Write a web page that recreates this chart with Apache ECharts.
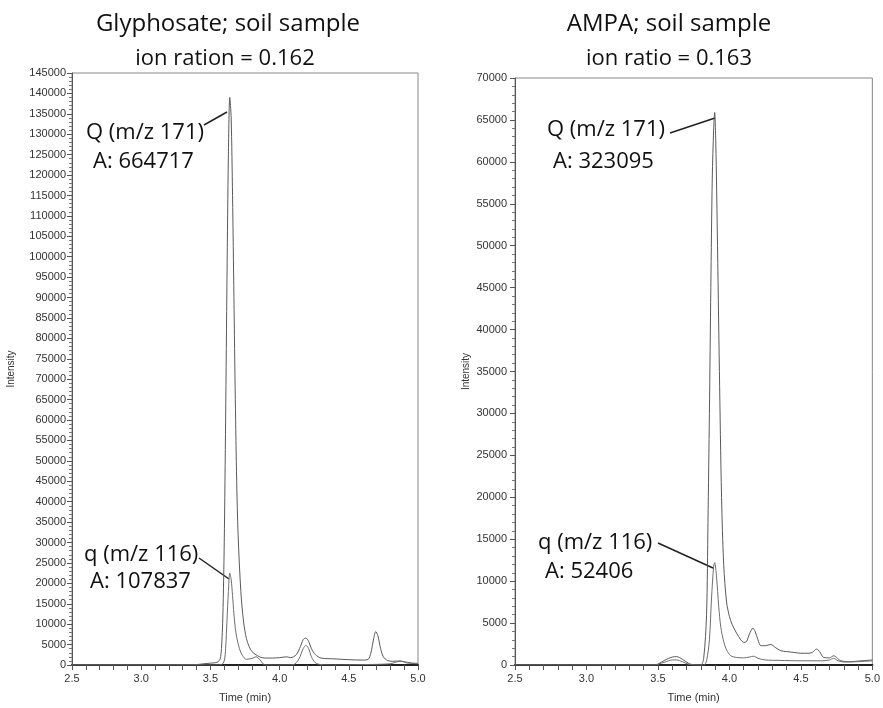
<!DOCTYPE html>
<html>
<head>
<meta charset="utf-8">
<script src="https://cdn.jsdelivr.net/npm/echarts@6/dist/echarts.min.js"></script>
<style>html,body{margin:0;padding:0;background:#fff}#c{width:883px;height:708px}</style>
</head>
<body>
<div id="c"></div>
<script>
// ---- Glyphosate, soil sample ----
const glyQTime = [2.5,2.8,3.1,3.4,3.45,3.5,3.55,3.57,3.58,3.59,3.6,3.61,3.62,3.63,3.64,3.65,3.66,3.67,3.68,3.69,3.7,3.72,3.74,3.76,3.78,3.8,3.83,3.86,3.9,3.95,4.0,4.05,4.08,4.12,4.15,4.17,4.19,4.21,4.23,4.26,4.3,4.4,4.5,4.6,4.64,4.66,4.68,4.695,4.71,4.73,4.75,4.78,4.82,4.87,4.9,4.95,5.0];
const glyQVal  = [0,0,0,100,300,450,700,1500,4000,12000,30000,60000,95000,125000,139000,134000,115000,90000,65000,45000,32000,18000,10500,6500,4500,3300,2500,1900,1700,1700,1800,2000,1800,2500,4500,6200,6600,5800,4000,2500,1700,1500,1300,1200,1400,3000,6500,8200,7200,4000,2000,1100,900,1000,800,500,400];
const glyqTime = [2.5,2.8,3.1,3.4,3.55,3.58,3.6,3.61,3.62,3.63,3.64,3.65,3.66,3.67,3.68,3.69,3.71,3.73,3.76,3.8,3.83,3.86,3.88,3.9,4.0,4.1,4.14,4.17,4.19,4.21,4.23,4.26,4.3,4.4,4.6,4.8,4.85,4.88,4.92,5.0];
const glyqVal  = [0,0,0,0,0,100,1000,4000,11000,18000,22500,21000,17000,12500,9000,6800,4000,2400,1400,1600,2000,1200,300,0,0,100,1500,4000,4800,4000,2000,500,100,0,100,300,800,900,500,300];
// ---- AMPA, soil sample ----
const ampQTime = [2.5,2.8,3.1,3.4,3.48,3.5,3.55,3.6,3.63,3.67,3.72,3.76,3.8,3.82,3.84,3.85,3.86,3.87,3.88,3.89,3.897,3.905,3.915,3.93,3.945,3.96,3.98,4.0,4.02,4.05,4.08,4.1,4.12,4.14,4.165,4.18,4.2,4.22,4.25,4.29,4.32,4.36,4.4,4.45,4.5,4.55,4.58,4.61,4.63,4.66,4.7,4.73,4.75,4.78,4.85,4.92,5.0];
const ampQVal  = [0,0,0,0,0,100,600,950,1000,700,150,0,0,800,6000,17000,30000,45000,58000,64000,65900,62000,52000,35000,20000,12000,7500,5800,4800,3800,3000,2700,2800,3700,4400,4000,3000,2300,2300,2450,2100,1700,1600,1500,1400,1400,1500,1900,1600,900,850,1100,900,500,400,500,600];
const ampqTime = [2.5,2.8,3.1,3.4,3.48,3.5,3.55,3.6,3.63,3.67,3.72,3.76,3.82,3.84,3.86,3.875,3.89,3.897,3.91,3.925,3.94,3.96,3.98,4.01,4.05,4.1,4.14,4.17,4.2,4.25,4.35,4.5,4.65,4.7,4.73,4.76,4.8,4.9,5.0];
const ampqVal  = [0,0,0,0,0,100,350,600,600,400,50,0,0,500,3000,8000,11800,12200,10500,7000,4500,2800,1800,1100,900,850,950,1050,800,600,550,500,500,600,800,500,350,400,500];

const titles = ['Glyphosate; soil sample', 'AMPA; soil sample'];
const subtitles = ['ion ration = 0.162', 'ion ratio = 0.163'];
const peakLabels = [
  ['Q (m/z 171)', 'A: 664717', 'q (m/z 116)', 'A: 107837'],
  ['Q (m/z 171)', 'A: 323095', 'q (m/z 116)', 'A: 52406']
];
const yMax = [145000, 70000];

function pairs(t, v){ return t.map((x,i)=>[x, v[i]]); }

const FONT = '"Open Sans", sans-serif';
const AX = 'Arial, "Liberation Sans", sans-serif';

function xAxis(gi){
  return {
    type:'value', gridIndex:gi, min:2.5, max:5.0, interval:0.5,
    name:'Time (min)', nameLocation:'middle', nameGap:27,
    nameTextStyle:{fontFamily:AX, fontSize:11, color:'#333'},
    axisLine:{show:true, onZero:false, lineStyle:{color:'#222', width:2}},
    axisTick:{show:true, inside:false, length:5, lineStyle:{color:'#555'}},
    minorTick:{show:true, splitNumber:5, length:5, lineStyle:{color:'#555'}},
    axisLabel:{fontFamily:AX, fontSize:11, color:'#333', margin:8, formatter:v=>v.toFixed(1)},
    splitLine:{show:false}
  };
}
function yAxis(gi, max, gap, margin){
  return {
    type:'value', gridIndex:gi, min:0, max:max, interval:5000,
    name:'Intensity', nameLocation:'middle', nameGap:gap, nameRotate:90,
    nameTextStyle:{fontFamily:AX, fontSize:10, color:'#333'},
    axisLine:{show:true, lineStyle:{color:'#555', width:1}},
    axisTick:{show:true, inside:false, length:5, lineStyle:{color:'#555'}},
    minorTick:{show:true, splitNumber:5, length:3, lineStyle:{color:'#777'}},
    axisLabel:{fontFamily:AX, fontSize:11, color:'#333', margin:margin, formatter:v=>String(v)},
    splitLine:{show:false}
  };
}
function lineSeries(xi, data, color){
  return {type:'line', xAxisIndex:xi, yAxisIndex:xi, data:data, showSymbol:false, symbol:'none',
    smooth:0.3, lineStyle:{color:color, width:1}, z:3, animation:false};
}

function txt(x, y, s, size){
  return {type:'text', x:x, y:y, silent:true,
    style:{text:s, fontFamily:FONT, fontSize:size, fill:'#111', verticalAlign:'middle'}};
}
function seg(x1,y1,x2,y2){
  return {type:'line', silent:true, shape:{x1,y1,x2,y2}, style:{stroke:'#222', lineWidth:1.5}};
}

const chart = echarts.init(document.getElementById('c'), null, {renderer:'canvas'});
chart.setOption({
  animation:false,
  backgroundColor:'#fff',
  title:[
    {text:titles[0], left:223, top:7, textAlign:'center', textStyle:{fontFamily:FONT, fontSize:24, fontWeight:'normal', color:'#111'}},
    {text:subtitles[0], left:220, top:43, textAlign:'center', textStyle:{fontFamily:FONT, fontSize:22, fontWeight:'normal', color:'#111'}},
    {text:titles[1], left:664, top:7, textAlign:'center', textStyle:{fontFamily:FONT, fontSize:24, fontWeight:'normal', color:'#111'}},
    {text:subtitles[1], left:664, top:43, textAlign:'center', textStyle:{fontFamily:FONT, fontSize:22, fontWeight:'normal', color:'#111'}}
  ],
  grid:[
    {left:72, top:73, width:346, height:600, show:true, borderColor:'#888', borderWidth:1, containLabel:false},
    {left:515, top:78, width:361, height:593, show:true, borderColor:'#888', borderWidth:1, containLabel:false}
  ],
  xAxis:[xAxis(0), xAxis(1)],
  yAxis:[yAxis(0, yMax[0], 56, 6), yAxis(1, yMax[1], 44, 8)],
  series:[
    lineSeries(0, pairs(glyQTime, glyQVal), '#5a5a5a'),
    lineSeries(0, pairs(glyqTime, glyqVal), '#6e6e6e'),
    lineSeries(1, pairs(ampQTime, ampQVal), '#5a5a5a'),
    lineSeries(1, pairs(ampqTime, ampqVal), '#6e6e6e')
  ],
  graphic:[
    txt(86, 133, peakLabels[0][0], 22),
    txt(93, 162, peakLabels[0][1], 22),
    txt(84, 555, peakLabels[0][2], 22),
    txt(90, 582, peakLabels[0][3], 22),
    seg(204,125,227,112),
    seg(199,558,229,579),
    txt(547, 130, peakLabels[1][0], 22),
    txt(553, 162, peakLabels[1][1], 22),
    txt(538, 543, peakLabels[1][2], 22),
    txt(545, 572, peakLabels[1][3], 22),
    seg(670,133,715,118),
    seg(658,543,713,568)
  ]
});
</script>
</body>
</html>
